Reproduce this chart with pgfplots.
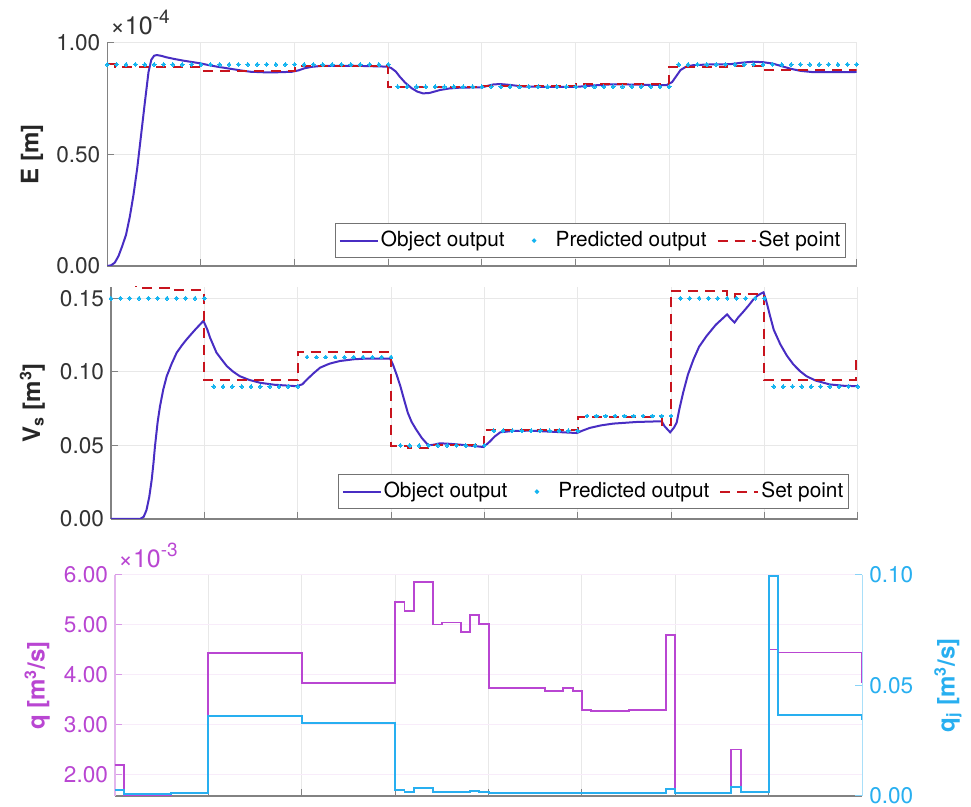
\documentclass[border=0pt]{standalone}
\usepackage{fontspec}
\setmainfont{TeX Gyre Heros}
\usepackage{pgfplots}
\pgfplotsset{compat=1.18}

\definecolor{objc}{RGB}{72,45,195}
\definecolor{predc}{RGB}{20,180,240}
\definecolor{setc}{RGB}{200,20,30}
\definecolor{qc}{RGB}{185,70,210}
\definecolor{qjc}{RGB}{40,175,240}
\definecolor{axc}{RGB}{130,130,130}
\definecolor{gridc}{RGB}{232,232,232}

\newcommand{\tickfont}{\fontsize{11.3}{13}\selectfont}
\newcommand{\legfont}{\fontsize{10.4}{12}\selectfont}
\newcommand{\labfont}{\fontsize{12}{14}\selectfont\bfseries}
\newcommand{\expfont}{\fontsize{12.5}{14}\selectfont}
\newcommand{\supfont}{\fontsize{9.5}{11}\selectfont}

\pgfplotsset{
  mybase/.style={
    scale only axis,
    xmin=0, xmax=8,
    xtick={0,1,2,3,4,5,6,7,8}, xticklabels={},
    tick align=inside,
    major tick length=3.5pt,
    axis lines*=left,
    axis line style={draw=axc, line width=0.6pt, -},
    x axis line style={-}, y axis line style={-},
    tick style={draw=axc, line width=0.5pt},
    grid=major,
    major grid style={draw=gridc, line width=0.5pt},
    ticklabel style={font=\tickfont, text=black!80},
    /pgf/number format/assume math mode=true,
    yticklabel style={/pgf/number format/fixed, /pgf/number format/fixed zerofill, /pgf/number format/precision=2},
    label style={font=\labfont, text=black!85},
  },
  mylegend/.style={
    legend columns=3, legend cell align=left,
    legend style={draw=black!55, line width=0.5pt, fill=white, font=\legfont,
      inner xsep=1.5pt, inner ysep=2.8pt,
      /tikz/every even column/.append style={column sep=4pt},
      nodes={inner xsep=1pt, inner ysep=1pt}},
  },
  objstyle/.style={draw=objc, line width=1pt,
    legend image code/.code={\draw[##1] (0pt,0pt) -- (19pt,0pt);}},
  predstyle/.style={only marks, color=predc, mark=*, mark size=0.95pt, mark options={solid, draw=predc, fill=predc, line width=0pt},
    legend image code/.code={\path (0pt,0pt) (19pt,0pt); \fill[predc] (9.5pt,0pt) circle (0.85pt);}},
  setstyle/.style={const plot, draw=setc, line width=1pt, dash pattern=on 5pt off 3.5pt,
    legend image code/.code={\draw[##1] (0pt,0pt) -- (19pt,0pt);}},
}

\begin{document}
\begin{tikzpicture}
\useasboundingbox (0,0) rectangle (485.5pt,-403.5pt);

% ---------------- top panel ----------------
\begin{axis}[mybase, mylegend,
  at={(53.65pt,-133pt)}, anchor=south west, width=374.7pt, height=111.5pt,
  ymin=0, ymax=1, ytick={0,0.5,1},
  ylabel={E [m]}, ylabel style={at={(axis description cs:-0.076,0.5)}, anchor=south},
  legend style={at={(axis description cs:0.9857,0.036)}, anchor=south east}]
\addplot[objstyle] coordinates {
(0,0)(0.04,0.003)(0.08,0.015)(0.12,0.045)(0.16,0.09)(0.20,0.14)(0.24,0.22)(0.28,0.32)(0.32,0.44)(0.36,0.585)(0.40,0.73)(0.44,0.87)(0.47,0.925)(0.50,0.943)(0.53,0.946)(0.58,0.942)(0.63,0.936)(0.72,0.928)(0.81,0.921)(0.90,0.915)(0.99,0.909)(1.08,0.901)(1.17,0.894)(1.26,0.888)(1.35,0.882)(1.44,0.876)(1.53,0.871)(1.71,0.868)(1.85,0.869)(1.97,0.871)(2.04,0.877)(2.10,0.886)(2.18,0.893)(2.28,0.897)(2.63,0.898)(2.99,0.894)(3.03,0.888)(3.08,0.872)(3.12,0.850)(3.18,0.822)(3.25,0.797)(3.31,0.782)(3.37,0.774)(3.44,0.776)(3.50,0.783)(3.55,0.789)(3.65,0.796)(3.77,0.800)(4.00,0.801)(4.06,0.808)(4.12,0.814)(4.19,0.816)(4.30,0.812)(4.43,0.805)(4.70,0.803)(5.00,0.803)(5.20,0.810)(5.40,0.815)(5.70,0.813)(5.97,0.811)(6.03,0.825)(6.08,0.855)(6.12,0.879)(6.18,0.894)(6.26,0.901)(6.45,0.904)(6.65,0.905)(6.78,0.912)(6.89,0.916)(7.00,0.914)(7.10,0.908)(7.20,0.896)(7.30,0.884)(7.40,0.875)(7.54,0.869)(7.75,0.869)(8.00,0.870)};
\addlegendentry{Object output}
\addplot[predstyle] coordinates {
(0,0.904)(0.1,0.904)(0.2,0.904)(0.3,0.904)(0.4,0.904)(0.5,0.904)(0.6,0.904)(0.7,0.904)(0.8,0.904)(0.9,0.904)
(1.0,0.904)(1.1,0.904)(1.2,0.904)(1.3,0.904)(1.4,0.904)(1.5,0.904)(1.6,0.904)(1.7,0.904)(1.8,0.904)(1.9,0.904)
(2.0,0.904)(2.1,0.904)(2.2,0.904)(2.3,0.904)(2.4,0.904)(2.5,0.904)(2.6,0.904)(2.7,0.904)(2.8,0.904)(2.9,0.904)
(3.0,0.904)(3.1,0.804)(3.2,0.804)(3.3,0.804)(3.4,0.804)(3.5,0.804)(3.6,0.804)(3.7,0.804)(3.8,0.804)(3.9,0.804)
(4.0,0.804)(4.1,0.804)(4.2,0.804)(4.3,0.804)(4.4,0.804)(4.5,0.804)(4.6,0.804)(4.7,0.804)(4.8,0.804)(4.9,0.804)
(5.0,0.804)(5.1,0.804)(5.2,0.804)(5.3,0.804)(5.4,0.804)(5.5,0.804)(5.6,0.804)(5.7,0.804)(5.8,0.804)(5.9,0.804)
(6.0,0.804)(6.1,0.904)(6.2,0.904)(6.3,0.904)(6.4,0.904)(6.5,0.904)(6.6,0.904)(6.7,0.904)(6.8,0.904)(6.9,0.904)
(7.0,0.904)(7.1,0.904)(7.2,0.904)(7.3,0.904)(7.4,0.904)(7.5,0.904)(7.6,0.904)(7.7,0.904)(7.8,0.904)(7.9,0.904)(8.0,0.904)};
\addlegendentry{Predicted output}
\addplot[setstyle] coordinates {
(0,0.905)(0.08,0.894)(1.0,0.876)(2.0,0.895)(3.0,0.803)(4.0,0.806)(5.0,0.816)(6.0,0.894)(6.62,0.897)(6.72,0.899)(7.0,0.879)(8.0,0.879)};
\addlegendentry{Set point}
\end{axis}

% ---------------- middle panel ----------------
\begin{axis}[mybase, mylegend,
  at={(55.5pt,-259.5pt)}, anchor=south west, width=373.4pt, height=116pt,
  ymin=0, ymax=0.1576, ytick={0,0.05,0.1,0.15},
  ylabel={V\textsubscript{s} [m\textsuperscript{3}]}, ylabel style={at={(axis description cs:-0.079,0.5)}, anchor=south},
  legend style={at={(axis description cs:0.988,0.043)}, anchor=south east}]
\addplot[objstyle] coordinates {
(0,0)(0.31,0)(0.35,0.0015)(0.38,0.006)(0.41,0.015)(0.436,0.0266)(0.455,0.038)(0.471,0.0493)(0.50,0.066)(0.525,0.0766)(0.56,0.088)(0.597,0.097)(0.65,0.1055)(0.704,0.113)(0.76,0.118)(0.81,0.122)(0.90,0.1285)(0.99,0.1346)
(1.03,0.129)(1.06,0.1234)(1.13,0.113)(1.19,0.108)(1.24,0.1039)(1.31,0.100)(1.38,0.097)(1.48,0.0945)(1.60,0.0925)(1.75,0.0912)(1.99,0.0902)
(2.05,0.0915)(2.10,0.0948)(2.17,0.099)(2.24,0.1028)(2.34,0.1055)(2.45,0.1073)(2.6,0.1085)(2.74,0.109)(2.99,0.109)
(3.02,0.105)(3.06,0.098)(3.10,0.0902)(3.14,0.081)(3.18,0.0721)(3.22,0.066)(3.27,0.0607)(3.33,0.055)(3.40,0.050)(3.46,0.0505)(3.52,0.0514)(3.6,0.0512)(3.74,0.0505)(3.9,0.0495)(3.99,0.0489)
(4.03,0.051)(4.06,0.0527)(4.11,0.056)(4.17,0.0589)(4.3,0.0598)(4.49,0.060)(4.75,0.0592)(4.99,0.0584)
(5.05,0.060)(5.13,0.0619)(5.25,0.0636)(5.38,0.0648)(5.63,0.0659)(5.90,0.0664)(5.93,0.063)(5.99,0.0589)
(6.03,0.062)(6.06,0.0655)(6.09,0.075)(6.13,0.086)(6.18,0.098)(6.24,0.1084)(6.30,0.117)(6.38,0.1243)(6.48,0.132)(6.60,0.139)(6.64,0.136)(6.68,0.1335)(6.72,0.137)(6.77,0.1405)(6.83,0.145)(6.88,0.149)(6.93,0.152)(6.99,0.154)
(7.02,0.148)(7.06,0.138)(7.10,0.1285)(7.17,0.1187)(7.24,0.111)(7.31,0.105)(7.38,0.1005)(7.45,0.097)(7.55,0.094)(7.70,0.0914)(7.85,0.0905)(8.0,0.0902)};
\addlegendentry{Object output}
\addplot[predstyle] coordinates {
(0,0.15)(0.1,0.15)(0.2,0.15)(0.3,0.15)(0.4,0.15)(0.5,0.15)(0.6,0.15)(0.7,0.15)(0.8,0.15)(0.9,0.15)
(1.0,0.15)(1.1,0.09)(1.2,0.09)(1.3,0.09)(1.4,0.09)(1.5,0.09)(1.6,0.09)(1.7,0.09)(1.8,0.09)(1.9,0.09)
(2.0,0.09)(2.1,0.11)(2.2,0.11)(2.3,0.11)(2.4,0.11)(2.5,0.11)(2.6,0.11)(2.7,0.11)(2.8,0.11)(2.9,0.11)
(3.0,0.11)(3.1,0.05)(3.2,0.05)(3.3,0.05)(3.4,0.05)(3.5,0.05)(3.6,0.05)(3.7,0.05)(3.8,0.05)(3.9,0.05)
(4.0,0.05)(4.1,0.06)(4.2,0.06)(4.3,0.06)(4.4,0.06)(4.5,0.06)(4.6,0.06)(4.7,0.06)(4.8,0.06)(4.9,0.06)
(5.0,0.06)(5.1,0.07)(5.2,0.07)(5.3,0.07)(5.4,0.07)(5.5,0.07)(5.6,0.07)(5.7,0.07)(5.8,0.07)(5.9,0.07)
(6.0,0.07)(6.1,0.15)(6.2,0.15)(6.3,0.15)(6.4,0.15)(6.5,0.15)(6.6,0.15)(6.7,0.15)(6.8,0.15)(6.9,0.15)
(7.0,0.15)(7.1,0.09)(7.2,0.09)(7.3,0.09)(7.4,0.09)(7.5,0.09)(7.6,0.09)(7.7,0.09)(7.8,0.09)(7.9,0.09)(8.0,0.09)};
\addlegendentry{Predicted output}
\addplot[setstyle] coordinates {
(0,0.159)(0.27,0.157)(0.62,0.1555)(1.0,0.0943)(2.0,0.1134)(3.0,0.0495)(3.18,0.0482)(3.4,0.0503)(4.0,0.0605)(5.0,0.0691)(5.9,0.0640)(6.0,0.155)(6.6,0.151)(6.68,0.1528)(7.0,0.0943)(7.98,0.1107)(8.0,0.1107)};
\addlegendentry{Set point}
\end{axis}

% ---------------- bottom panel, left axis ----------------
\begin{axis}[mybase,
  at={(57.5pt,-398pt)}, anchor=south west, width=373.6pt, height=110.5pt,
  ymin=1.58, ymax=6, ytick={2,3,4,5,6},
  y axis line style={draw=qc!40},
  ytick style={draw=qc!55},
  y grid style={draw=qc!10},
  yticklabel style={text=qc},
  ylabel={q [m\textsuperscript{3}/s]}, ylabel style={at={(axis description cs:-0.0776,0.5)}, anchor=south, text=qc}]
\addplot[const plot, draw=qc, line width=0.95pt] coordinates {
(0,2.20)(0.1,1.59)(0.6,1.645)(1.0,4.447)(2.0,3.833)(3.0,5.467)(3.1,5.287)(3.2,5.867)(3.4,5.01)(3.5,5.05)(3.7,4.853)(3.8,5.20)(3.9,5.02)(4.0,3.733)(4.1,3.747)(4.6,3.687)(4.8,3.74)(4.9,3.687)(5.0,3.30)(5.1,3.287)(5.5,3.305)(5.9,4.80)(6.0,1.645)(6.6,2.51)(6.7,1.66)(7.0,4.51)(7.1,4.45)(8.0,3.84)};
\end{axis}

% ---------------- bottom panel, right axis ----------------
\begin{axis}[scale only axis,
  at={(57.5pt,-398pt)}, anchor=south west, width=373.6pt, height=110.5pt,
  xmin=0, xmax=8, ymin=0, ymax=0.1, ytick={0,0.05,0.1},
  axis x line=none, axis y line*=right,
  y axis line style={draw=qjc!40, line width=0.6pt, -},
  tick align=inside, major tick length=3.5pt,
  ytick style={draw=qjc!55, line width=0.5pt},
  ticklabel style={font=\tickfont, text=qjc},
  /pgf/number format/assume math mode=true,
  yticklabel style={/pgf/number format/fixed, /pgf/number format/fixed zerofill, /pgf/number format/precision=2},
  label style={font=\labfont},
  ylabel={q\textsubscript{j} [m\textsuperscript{3}/s]}, ylabel style={at={(axis description cs:1.087,0.5)}, anchor=north, text=qjc}]
\addplot[const plot, draw=qjc, line width=0.95pt] coordinates {
(0,0.0027)(0.1,0.0009)(0.6,0.0013)(1.0,0.0364)(2.0,0.0329)(3.0,0.0027)(3.1,0.0020)(3.2,0.0035)(3.4,0.0020)(3.8,0.0024)(3.9,0.0017)(4.0,0.0012)(5.9,0.0032)(6.0,0.0012)(6.6,0.0042)(6.7,0.0017)(7.0,0.0995)(7.1,0.0366)(8.0,0.0345)};
\end{axis}

\node[anchor=base west, inner sep=0pt, text=black!80] at (55pt,-17.5pt) {{\expfont ×10}\raisebox{5.5pt}{\supfont -4}};
\node[anchor=base west, inner sep=0pt, text=qc] at (59pt,-284pt) {{\expfont ×10}\raisebox{5.5pt}{\supfont -3}};
\end{tikzpicture}
\end{document}
